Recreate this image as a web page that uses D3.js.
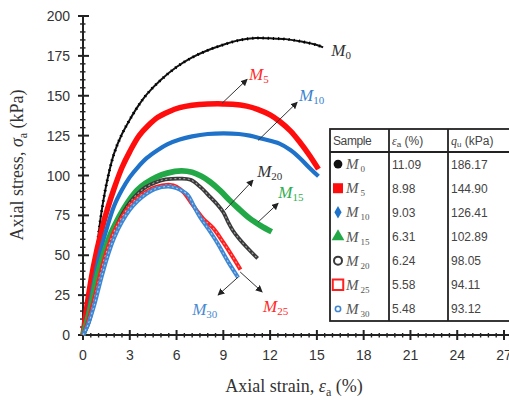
<!DOCTYPE html>
<html>
<head>
<meta charset="utf-8">
<script src="https://cdn.jsdelivr.net/npm/d3@7"></script>
<style>
  body { margin: 0; background: #fff; }
  svg { display: block; }
</style>
</head>
<body>
<svg id="chart" width="509" height="400"></svg>
<script>
// ---- Data: stress–strain curves of the seven mixes ----
const sampleIds  = ["M0", "M5", "M10", "M15", "M20", "M25", "M30"];
const sampleSubs = ["0", "5", "10", "15", "20", "25", "30"];
const peakStrain = [11.09, 8.98, 9.03, 6.31, 6.24, 5.58, 5.48];
const peakStress = [186.17, 144.90, 126.41, 102.89, 98.05, 94.11, 93.12];

const strainM0 = [0, 0.3, 0.6, 0.9, 1.2, 1.6, 2.0, 2.5, 3.0, 3.5, 4.1, 5.0, 6.0, 7.0, 8.0, 9.0, 10.0, 11.09, 12.0, 13.0, 14.0, 15.0, 15.4];
const stressM0 = [0, 10, 30, 55, 78, 99, 114, 126, 135, 143, 151, 160, 168, 174, 178.5, 182, 184.8, 186.17, 186.0, 185.5, 184, 181.8, 180.3];

const strainM5 = [0, 0.25, 0.65, 1.2, 1.6, 2.0, 2.5, 3.0, 3.6, 4.2, 4.8, 5.5, 6.2, 7.0, 8.0, 8.98, 9.6, 10.5, 11.2, 12.0, 12.6, 13.3, 13.9, 14.5, 15.1];
const stressM5 = [0, 18, 42, 66, 80, 92, 105, 115, 125, 131.5, 136.5, 140, 142.5, 144, 144.8, 144.9, 144.7, 143.5, 141.5, 138, 134, 128, 121, 113, 104];

const strainM10 = [0, 0.3, 0.7, 1.1, 1.5, 2.0, 2.5, 3.0, 3.5, 4.1, 4.8, 5.4, 6.2, 7.0, 8.0, 9.03, 10.0, 10.7, 11.5, 12.6, 13.3, 13.9, 14.5, 15.1];
const stressM10 = [0, 12, 33, 52, 66, 81, 91, 99, 105, 111, 116, 119.5, 122.5, 124.5, 126, 126.41, 126, 125, 123, 120, 116, 111, 105, 99.5];

const strainM15 = [0, 0.3, 0.6, 0.88, 1.4, 1.8, 2.2, 2.6, 3.0, 3.5, 4.0, 4.7, 5.4, 6.31, 7.0, 7.6, 8.15, 8.8, 9.4, 10.0, 10.7, 11.4, 12.1];
const stressM15 = [0, 10, 22, 36, 53, 64, 72, 79, 85, 91, 95, 99, 101.5, 102.89, 102, 99.5, 96, 90.5, 84.5, 79, 73, 68.5, 64.7];

const strainM20 = [0, 0.3, 0.6, 1.0, 1.4, 1.8, 2.2, 2.6, 3.0, 3.5, 4.0, 4.6, 5.3, 6.24, 6.9, 7.5, 8.15, 8.6, 9.0, 9.3, 9.6, 10.0, 10.5, 11.2];
const stressM20 = [0, 6, 16, 32, 46, 59, 69, 77, 83, 88.5, 92.5, 95.5, 97.5, 98.05, 97.3, 93, 86.6, 82, 77, 71, 65.7, 60.5, 55, 48];

const strainM25 = [0, 0.3, 0.7, 1.1, 1.5, 2.0, 2.5, 3.0, 3.5, 4.0, 4.6, 5.58, 6.0, 6.5, 7.0, 7.3, 7.7, 8.35, 9.0, 9.6, 10.1];
const stressM25 = [0, 8, 22, 38, 52, 65, 74, 81, 86, 89.5, 92.5, 94.11, 93, 89, 82, 78, 73, 67, 58, 49, 41];

const strainM30 = [0, 0.3, 0.7, 1.1, 1.5, 2.0, 2.5, 3.0, 3.5, 4.0, 4.6, 5.48, 6.0, 6.7, 7.1, 7.5, 8.0, 8.6, 9.3, 9.95];
const stressM30 = [0, 6, 18, 33, 47, 61, 71, 78.5, 84, 88, 91.5, 93.12, 92, 88, 81, 74, 67, 58, 46, 36];

const curveStrain = [strainM0, strainM5, strainM10, strainM15, strainM20, strainM25, strainM30];
const curveStress = [stressM0, stressM5, stressM10, stressM15, stressM20, stressM25, stressM30];

// Annotation arrows (strain, stress) and their labels
const arrowSample = ["M5", "M10", "M20", "M15", "M25", "M30"];
const arrowFromX = [8.92, 11.23, 9.11, 11.23, 10.08, 9.95];
const arrowFromY = [145.3, 122.0, 78.3, 70.8, 39.5, 36.3];
const arrowToX   = [10.53, 13.74, 10.91, 12.52, 11.49, 8.66];
const arrowToY   = [160.3, 145.9, 97.1, 82.6, 27.0, 25.0];
const labelSample = ["M0", "M5", "M10", "M20", "M15", "M25", "M30"];
const labelX = [15.92, 10.65, 13.86, 11.17, 12.52, 11.55, 7.0];
const labelY = [174.7, 159.7, 146.5, 98.9, 85.8, 14.4, 12.5];

const xTicks = [0, 3, 6, 9, 12, 15, 18, 21, 24, 27];
const yTicks = [0, 25, 50, 75, 100, 125, 150, 175, 200];

// ---- Styling ----
const colors = {
  M0: "#111111", M5: "#ff0d0d", M10: "#1f72c9", M15: "#23a847",
  M20: "#3a3a3a", M25: "#ff1f1f", M30: "#3f87d2"
};
const widths = { M0: 2, M5: 5.5, M10: 4.2, M15: 5.8, M20: 3.8, M25: 4, M30: 4 };
const hollow = { M20: true, M25: true, M30: true };

const svg = d3.select("#chart");
const x = d3.scaleLinear().domain([0, 27]).range([83, 504]);
const y = d3.scaleLinear().domain([0, 200]).range([335, 16]);

const serif = "'Liberation Serif', 'DejaVu Serif', serif";
const sans = "'Liberation Sans', Arial, sans-serif";

// ---- Axes ----
const axisCol = "#222";
const gx = svg.append("g");
// axis line
gx.append("line").attr("x1", x(0)).attr("x2", 509).attr("y1", y(0)).attr("y2", y(0))
  .attr("stroke", axisCol).attr("stroke-width", 2);
// minor ticks
gx.selectAll("line.minor").data(d3.range(0, 27.01, 0.5).filter(v => v % 3 !== 0))
  .join("line").attr("class", "minor")
  .attr("x1", d => x(d)).attr("x2", d => x(d))
  .attr("y1", y(0) - 2).attr("y2", y(0) + 2.5)
  .attr("stroke", axisCol).attr("stroke-width", 1.4);
gx.selectAll("line.major").data(xTicks).join("line").attr("class", "major")
  .attr("x1", d => x(d)).attr("x2", d => x(d))
  .attr("y1", y(0) - 5).attr("y2", y(0) + 5)
  .attr("stroke", axisCol).attr("stroke-width", 2);
gx.selectAll("text").data(xTicks).join("text")
  .attr("x", d => x(d)).attr("y", 360)
  .attr("text-anchor", "middle")
  .attr("font-family", sans).attr("font-size", 14).attr("fill", "#333")
  .text(d => d);

const gy = svg.append("g");
gy.append("line").attr("x1", x(0)).attr("x2", x(0)).attr("y1", y(0)).attr("y2", y(200))
  .attr("stroke", axisCol).attr("stroke-width", 2);
gy.selectAll("line.minor").data(d3.range(0, 200.1, 5).filter(v => v % 25 !== 0))
  .join("line").attr("class", "minor")
  .attr("x1", x(0) - 3).attr("x2", x(0) + 2.5)
  .attr("y1", d => y(d)).attr("y2", d => y(d))
  .attr("stroke", axisCol).attr("stroke-width", 1.4);
gy.selectAll("line.major").data(yTicks).join("line").attr("class", "major")
  .attr("x1", x(0) - 5).attr("x2", x(0) + 6)
  .attr("y1", d => y(d)).attr("y2", d => y(d))
  .attr("stroke", axisCol).attr("stroke-width", 2);
gy.selectAll("text").data(yTicks).join("text")
  .attr("x", 70).attr("y", d => y(d) + 5)
  .attr("text-anchor", "end")
  .attr("font-family", sans).attr("font-size", 14).attr("fill", "#333")
  .text(d => d);

// axis titles
const xt = svg.append("text").attr("x", 294).attr("y", 392)
  .attr("text-anchor", "middle").attr("font-family", serif)
  .attr("font-size", 18).attr("fill", "#333");
xt.append("tspan").text("Axial strain, ");
xt.append("tspan").attr("font-style", "italic").text("ε");
xt.append("tspan").attr("font-size", 12).attr("dy", 4).text("a");
xt.append("tspan").attr("dy", -4).text(" (%)");

const yt = svg.append("text").attr("transform", "translate(23,165) rotate(-90)")
  .attr("text-anchor", "middle").attr("font-family", serif)
  .attr("font-size", 18).attr("fill", "#333");
yt.append("tspan").text("Axial stress, ");
yt.append("tspan").attr("font-style", "italic").text("σ");
yt.append("tspan").attr("font-size", 12).attr("dy", 4).text("a");
yt.append("tspan").attr("dy", -4).text(" (kPa)");

// ---- Curves ----
const line = d3.line()
  .x(d => x(d[0])).y(d => y(d[1]))
  .curve(d3.curveCatmullRom.alpha(0.5));

const gc = svg.append("g");
sampleIds.forEach((id, i) => {
  const pts = curveStrain[i].map((s, k) => [s, curveStress[i][k]]);
  gc.append("path").datum(pts).attr("d", line)
    .attr("fill", "none").attr("stroke", colors[id])
    .attr("stroke-width", widths[id]).attr("stroke-linejoin", "round");
  if (hollow[id]) {
    gc.append("path").datum(pts).attr("d", line)
      .attr("fill", "none").attr("stroke", "#fff").attr("stroke-opacity", 0.55)
      .attr("stroke-width", 1.1).attr("stroke-dasharray", "2,2.5");
  }
  if (id === "M0") {
    gc.append("path").datum(pts).attr("d", line)
      .attr("fill", "none").attr("stroke", "#000")
      .attr("stroke-width", 3).attr("stroke-dasharray", "1.2,4");
  }
});

// ---- Arrows and labels ----
const defs = svg.append("defs");
defs.append("marker").attr("id", "head").attr("viewBox", "0 0 10 10")
  .attr("refX", 9).attr("refY", 5).attr("markerWidth", 7).attr("markerHeight", 7)
  .attr("markerUnits", "userSpaceOnUse").attr("orient", "auto")
  .append("path").attr("d", "M0,0L10,5L0,10Z").attr("fill", "#222");

const ga = svg.append("g");
arrowSample.forEach((id, i) => {
  ga.append("line")
    .attr("x1", x(arrowFromX[i])).attr("y1", y(arrowFromY[i]))
    .attr("x2", x(arrowToX[i])).attr("y2", y(arrowToY[i]))
    .attr("stroke", "#333").attr("stroke-width", 1)
    .attr("marker-end", "url(#head)");
});

const labelColors = { M0: "#333", M5: "#ff2a2a", M10: "#3a82cf", M15: "#2fae50",
  M20: "#333", M25: "#ff2a2a", M30: "#4a8ad2" };
labelSample.forEach((id, i) => {
  const t = svg.append("text").attr("x", x(labelX[i])).attr("y", y(labelY[i]))
    .attr("font-family", serif).attr("fill", labelColors[id]);
  t.append("tspan").attr("font-style", "italic").attr("font-size", 17).text("M");
  t.append("tspan").attr("font-size", 11).attr("dy", 3).text(id.slice(1));
});

// ---- Summary table ----
const tb = svg.append("g");
const tLeft = 330, tRight = 520, tTop = 129, tHead = 152, tBottom = 321;
const colX = [330, 389, 448];
const rowH = (tBottom - tHead) / sampleIds.length;
tb.append("rect").attr("x", tLeft).attr("y", tTop)
  .attr("width", tRight - tLeft).attr("height", tBottom - tTop)
  .attr("fill", "#fff").attr("stroke", "#222").attr("stroke-width", 1.8);
tb.append("line").attr("x1", tLeft).attr("x2", tRight).attr("y1", tHead).attr("y2", tHead)
  .attr("stroke", "#222").attr("stroke-width", 1.8);
colX.slice(1).forEach(cx => {
  tb.append("line").attr("x1", cx).attr("x2", cx).attr("y1", tTop).attr("y2", tBottom)
    .attr("stroke", "#222").attr("stroke-width", 1.8);
});

const txtCol = "#444";
tb.append("text").attr("x", 333).attr("y", 145).attr("font-family", sans)
  .attr("font-size", 12).attr("fill", txtCol).attr("letter-spacing", -0.4).text("Sample");
const h2 = tb.append("text").attr("x", 392).attr("y", 145).attr("font-family", sans)
  .attr("font-size", 12).attr("fill", txtCol);
h2.append("tspan").attr("font-family", serif).attr("font-style", "italic").text("ε");
h2.append("tspan").attr("font-size", 8).attr("dy", 2).text("a");
h2.append("tspan").attr("dy", -2).text(" (%)");
const h3 = tb.append("text").attr("x", 451).attr("y", 145).attr("font-family", sans)
  .attr("font-size", 12).attr("fill", txtCol);
h3.append("tspan").attr("font-family", serif).attr("font-style", "italic").text("q");
h3.append("tspan").attr("font-size", 8).attr("dy", 2).text("u");
h3.append("tspan").attr("dy", -2).text(" (kPa)");

const markerSym = {
  M0: d3.symbolCircle, M5: d3.symbolSquare, M10: d3.symbolDiamond,
  M15: d3.symbolTriangle, M20: d3.symbolCircle, M25: d3.symbolSquare, M30: d3.symbolCircle
};
const markerSize = { M0: 60, M5: 100, M10: 45, M15: 70, M20: 50, M25: 110, M30: 22 };

sampleIds.forEach((id, i) => {
  const cy = tHead + rowH * (i + 0.5);
  const sym = d3.symbol().type(markerSym[id]).size(markerSize[id]);
  const m = tb.append("path").attr("d", sym())
    .attr("transform", `translate(338,${cy})`);
  if (hollow[id]) {
    m.attr("fill", "#fff").attr("stroke", colors[id]).attr("stroke-width", id === "M30" ? 1.6 : 2);
  } else {
    m.attr("fill", colors[id]);
  }
  const lt = tb.append("text").attr("x", 346).attr("y", cy + 5)
    .attr("font-family", serif).attr("fill", "#555");
  lt.append("tspan").attr("font-style", "italic").attr("font-size", 15).text("M");
  lt.append("tspan").attr("font-size", 9).attr("dx", 2).attr("dy", 3).text(sampleSubs[i]);
  tb.append("text").attr("x", 392).attr("y", cy + 4.5).attr("font-family", sans)
    .attr("font-size", 12).attr("fill", txtCol).text(peakStrain[i].toFixed(2));
  tb.append("text").attr("x", 451).attr("y", cy + 4.5).attr("font-family", sans)
    .attr("font-size", 12).attr("fill", txtCol).text(peakStress[i].toFixed(2));
});
</script>
</body>
</html>
